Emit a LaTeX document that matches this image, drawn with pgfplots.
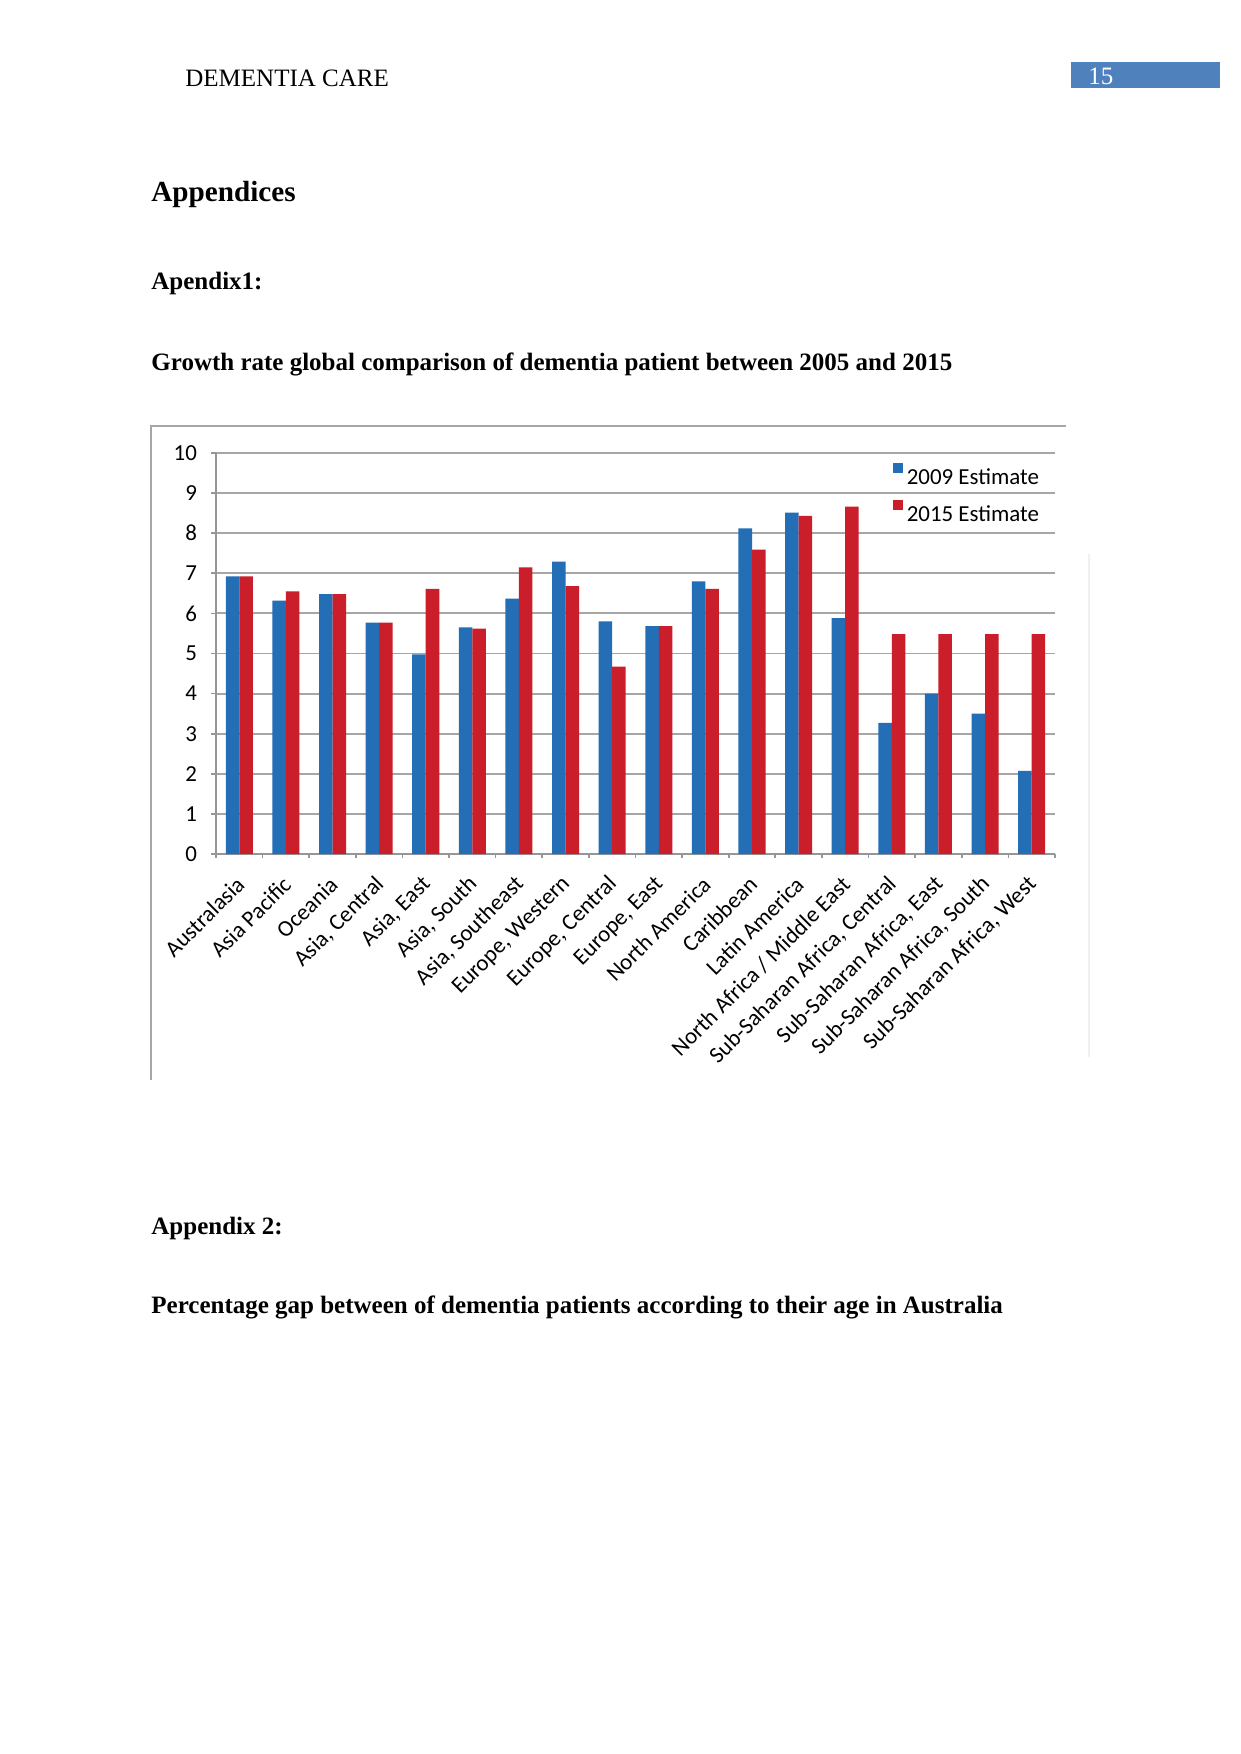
\documentclass[border=0pt]{standalone}
\usepackage{fontspec}
\setmainfont{Liberation Serif}
\newfontfamily\carlito{Carlito}
\usepackage{pgfplots}
\pgfplotsset{compat=1.18}

\definecolor{barblue}{RGB}{36,110,182}
\definecolor{barred}{RGB}{202,30,42}
\definecolor{hdrblue}{RGB}{79,129,189}
\definecolor{gridgray}{RGB}{150,150,150}

\begin{document}
% page drawn in pixel units of the 1241x1754 reference, y pointing down
\begin{tikzpicture}[x=0.48pt, y=-0.48pt]
\useasboundingbox[fill=white] (0,0) rectangle (1241,1754);

% header
\node[anchor=base west, inner sep=0pt, font=\fontsize{12}{14}\selectfont] at (185,86) {DEMENTIA CARE};
\fill[hdrblue] (1071,62) rectangle (1220,88);
\node[anchor=base west, inner sep=0pt, text=white, font=\fontsize{12}{14}\selectfont] at (1088,84) {15};

% body text
\node[anchor=base west, inner sep=0pt, font=\bfseries\fontsize{14}{16}\selectfont] at (151,201) {Appendices};
\node[anchor=base west, inner sep=0pt, font=\bfseries\fontsize{12}{14}\selectfont] at (151,289) {Apendix1:};
\node[anchor=base west, inner sep=0pt, font=\bfseries\fontsize{12}{14}\selectfont] at (151,370) {Growth rate global comparison of dementia patient between 2005 and 2015};
\node[anchor=base west, inner sep=0pt, font=\bfseries\fontsize{12}{14}\selectfont] at (151,1234) {Appendix 2:};
\node[anchor=base west, inner sep=0pt, font=\bfseries\fontsize{12}{14}\selectfont] at (151,1313) {Percentage gap between of dementia patients according to their age in Australia};

% frame of the pasted chart picture
\draw[gray!70, line width=1.4pt] (151,1080) -- (151,426) -- (1066,426);
\draw[gray!12, line width=0.6pt] (1089,554) -- (1089,1057);

\coordinate (O) at (216,854);
\begin{axis}[
  at={(O)}, anchor=south west,
  scale only axis,
  width=402.7pt, height=192.5pt,
  xmin=-0.5, xmax=17.5,
  ymin=0, ymax=10,
  ytick={0,1,...,10},
  xtick={0,1,...,17},
  xticklabels={Australasia, Asia Pacific, Oceania, {Asia, Central}, {Asia, East}, {Asia, South}, {Asia, Southeast}, {Europe, Western}, {Europe, Central}, {Europe, East}, North America, Caribbean, Latin America, North Africa / Middle East, {Sub-Saharan Africa, Central}, {Sub-Saharan Africa, East}, {Sub-Saharan Africa, South}, {Sub-Saharan Africa, West}},
  minor xtick={-0.5,0.5,...,17.5},
  major x tick style={draw=none},
  tick align=outside,
  major tick length=2.4pt,
  minor tick length=2pt,
  tick style={gridgray, line width=0.8pt},
  axis x line*=bottom,
  axis y line*=left,
  axis line style={gridgray, line width=0.9pt},
  ymajorgrids,
  grid style={gridgray!85, line width=0.9pt},
  /pgf/number format/assume math mode=true,
  yticklabel style={font=\carlito\fontsize{11}{13}\selectfont, xshift=-3.2pt},
  xticklabel style={font=\carlito\fontsize{11}{13}\selectfont, rotate=45, anchor=east, xshift=-3.5pt, yshift=-7.75pt},
  ybar=0pt,
  bar width=0.29,
  legend style={draw=none, fill=none, at={(0.806,0.975)}, anchor=north west,
    font=\carlito\fontsize{11}{13}\selectfont, row sep=4pt, inner sep=0pt,
    /tikz/every even column/.append style={column sep=3.8pt}},
  legend cell align=left,
  legend image code/.code={\fill[#1] (0pt,2.4pt) rectangle (4.8pt,7.2pt);},
]
\addplot[draw=none, fill=barblue] coordinates {
(0,6.92) (1,6.32) (2,6.48) (3,5.77) (4,4.98) (5,5.65) (6,6.37) (7,7.29) (8,5.80)
(9,5.68) (10,6.80) (11,8.12) (12,8.51) (13,5.88) (14,3.27) (15,4.00) (16,3.50) (17,2.07)};
\addplot[draw=none, fill=barred] coordinates {
(0,6.92) (1,6.55) (2,6.48) (3,5.77) (4,6.61) (5,5.62) (6,7.15) (7,6.68) (8,4.67)
(9,5.68) (10,6.61) (11,7.59) (12,8.43) (13,8.66) (14,5.48) (15,5.48) (16,5.48) (17,5.48)};
\legend{2009 Estimate, 2015 Estimate}
\end{axis}
\end{tikzpicture}
\end{document}
